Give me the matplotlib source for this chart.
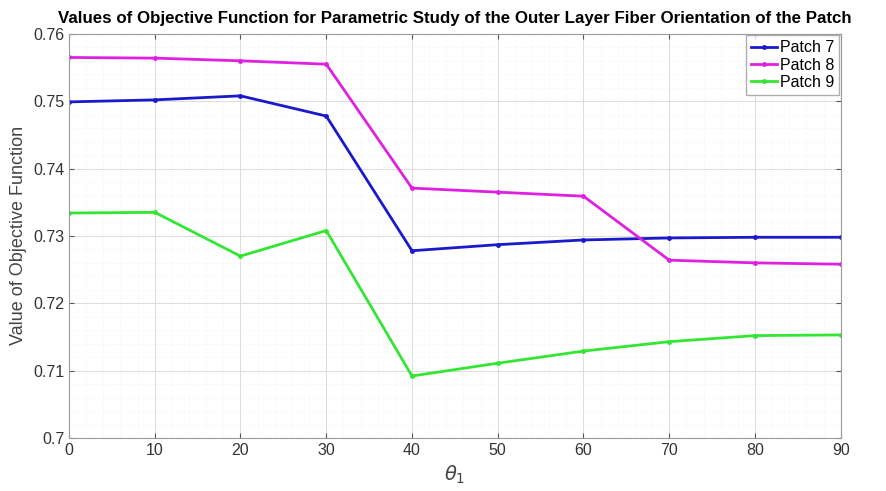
import numpy as np
import matplotlib.pyplot as plt
from matplotlib.ticker import MultipleLocator, FormatStrFormatter

plt.rcParams['font.family'] = ['Liberation Sans', 'DejaVu Sans']

# fiber angle of the outer layer (deg)
theta = [0, 10, 20, 30, 40, 50, 60, 70, 80, 90]

patch7 = [0.7499, 0.7502, 0.7508, 0.7478, 0.7278, 0.7287, 0.7294, 0.7297, 0.7298, 0.7298]
patch8 = [0.7565, 0.7564, 0.7560, 0.7555, 0.7371, 0.7365, 0.7359, 0.7264, 0.7260, 0.7258]
patch9 = [0.7334, 0.7335, 0.7270, 0.7308, 0.7092, 0.7111, 0.7129, 0.7143, 0.7152, 0.7153]

yticks = [0.70, 0.71, 0.72, 0.73, 0.74, 0.75, 0.76]

series = [
    ('Patch 7', patch7, '#1a1acc'),
    ('Patch 8', patch8, '#e020e0'),
    ('Patch 9', patch9, '#33e633'),
]

fig = plt.figure(figsize=(8.87, 4.91), dpi=100)
ax = fig.add_axes([0.0778, 0.108, 0.870, 0.823])

for name, vals, col in series:
    ax.plot(theta, vals, color=col, linewidth=2, marker='.', markersize=5, label=name)

ax.set_xlim(0, 90)
ax.set_ylim(0.70, 0.76)
ax.xaxis.set_major_locator(MultipleLocator(10))
ax.set_yticks(yticks)
ax.yaxis.set_major_formatter(FormatStrFormatter('%g'))
ax.xaxis.set_minor_locator(MultipleLocator(2))
ax.yaxis.set_minor_locator(MultipleLocator(0.002))

ax.grid(True, which='major', color='#dcdcdc', linewidth=0.7)
ax.grid(True, which='minor', color='#efefef', linewidth=0.5, linestyle=':')
ax.tick_params(which='both', direction='in', top=True, right=True, labelsize=11.5, colors='#555555')
ax.tick_params(which='minor', length=0)
ax.tick_params(labelcolor='#333333')
for s in ax.spines.values():
    s.set_color('#9a9a9a')

ax.set_title('Values of Objective Function for Parametric Study of the Outer Layer Fiber Orientation of the Patch',
             fontsize=12.2, fontweight='bold', pad=8)
ax.set_ylabel('Value of Objective Function', fontsize=13, color='#444444')
ax.set_xlabel(r'$\theta_1$', fontsize=14, color='#444444')

ax.legend(loc='upper right', fontsize=11.5, frameon=True, fancybox=False, edgecolor='#9a9a9a',
          borderaxespad=0.1, handlelength=1.6, handletextpad=0.2, labelspacing=0.15, borderpad=0.3)

fig.savefig('out.png', dpi=100)
